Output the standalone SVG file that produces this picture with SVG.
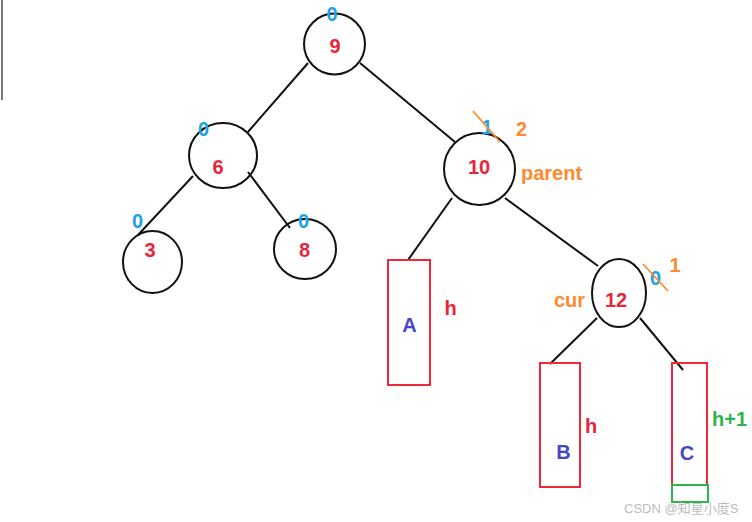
<svg xmlns="http://www.w3.org/2000/svg" width="752" height="522" viewBox="0 0 752 522">
<style>
.n{fill:none;stroke:#111;stroke-width:2}
.e{stroke:#111;stroke-width:2;fill:none}
.box{fill:none;stroke:#ee2a3a;stroke-width:2}
.t{font-family:"Liberation Sans",Arial,sans-serif;font-weight:bold;font-size:20px;text-anchor:middle}
.red{fill:#e8253a}
.blue{fill:#1ea3e6}
.org{fill:#ff8a2e}
.pur{fill:#4646c8}
.grn{fill:#2bb54a}
.strike{stroke:#ff8a2e;stroke-width:1.8}
</style>
<rect width="752" height="522" fill="#fff"/>
<line x1="2" y1="0" x2="2" y2="100" stroke="#777" stroke-width="2"/>
<g id="connectors">
<line class="e" x1="308" y1="63" x2="247" y2="133"/>
<line class="e" x1="360" y1="63" x2="455" y2="142"/>
<line class="e" x1="193" y1="176" x2="138" y2="235"/>
<line class="e" x1="248" y1="172" x2="290" y2="228"/>
<line class="e" x1="452" y1="198" x2="408" y2="260"/>
<line class="e" x1="505" y1="198" x2="598" y2="266"/>
<line class="e" x1="597" y1="318" x2="550" y2="364"/>
<line class="e" x1="640" y1="318" x2="683" y2="370"/>
</g>
<g id="node9">
<circle class="n" cx="334.5" cy="44" r="30.5"/>
<text class="t red" x="335" y="53">9</text>
<text class="t blue" x="332" y="21">0</text>
</g>
<g id="node6">
<ellipse class="n" cx="223" cy="155.5" rx="34" ry="32.5"/>
<text class="t red" x="218" y="174">6</text>
<text class="t blue" x="203.5" y="136">0</text>
</g>
<g id="node3">
<ellipse class="n" cx="152.5" cy="262" rx="29.5" ry="31"/>
<text class="t red" x="150" y="257">3</text>
<text class="t blue" x="137.5" y="228">0</text>
</g>
<g id="node8">
<ellipse class="n" cx="305" cy="249" rx="31" ry="30"/>
<text class="t red" x="304.5" y="257">8</text>
<text class="t blue" x="303.5" y="228">0</text>
</g>
<g id="node10">
<ellipse class="n" cx="479.5" cy="169" rx="35.5" ry="36"/>
<text class="t red" x="479" y="174">10</text>
<text class="t blue" x="487" y="134">1</text>
<line class="strike" x1="473" y1="111" x2="500" y2="142"/>
<text class="t org" x="521.5" y="136">2</text>
<text class="t org" x="521" y="180" style="text-anchor:start">parent</text>
</g>
<g id="node12">
<ellipse class="n" cx="619" cy="293" rx="27" ry="34"/>
<text class="t red" x="616" y="307">12</text>
<text class="t org" x="569.5" y="307">cur</text>
<text class="t blue" x="655.5" y="285">0</text>
<line class="strike" x1="643" y1="264" x2="668" y2="291"/>
<text class="t org" x="675" y="272">1</text>
</g>
<g id="subtreeA">
<rect class="box" x="388" y="260" width="42" height="125"/>
<text class="t pur" x="409.5" y="332">A</text>
<text class="t red" x="450.5" y="315">h</text>
</g>
<g id="subtreeB">
<rect class="box" x="540" y="363" width="40" height="124"/>
<text class="t pur" x="563.5" y="459">B</text>
<text class="t red" x="591" y="433">h</text>
</g>
<g id="subtreeC">
<rect class="box" x="672" y="363" width="35" height="122"/>
<text class="t pur" x="687" y="460">C</text>
<rect x="672" y="485" width="36" height="17" fill="none" stroke="#2bb54a" stroke-width="2"/>
<text class="t grn" x="712" y="426" style="text-anchor:start">h+1</text>
</g>
<text x="624" y="513" font-family="'Liberation Sans','Noto Sans CJK SC',sans-serif" font-size="13" fill="#bdbdbd">CSDN @知星小度S</text>
</svg>
